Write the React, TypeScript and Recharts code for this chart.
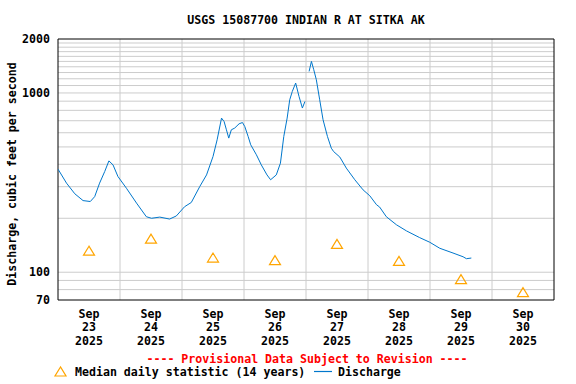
import React from "react";
import {
  ComposedChart,
  Line,
  Scatter,
  CartesianGrid,
  XAxis,
  YAxis,
  ReferenceArea,
} from "recharts";

// hours since Sep 23 00:00
const dischargeHours = [
  0, 3.3, 6.5, 9.7, 12.5, 14.2, 16.1, 18.1, 19.7, 21.3, 23.2, 26.5, 30.4, 34.2, 36.2, 39.4,
  43.2, 45.8, 49.0, 51.6, 54.9, 57.5, 60.0, 61.6, 63.3, 64.3, 65.2, 66.1, 67.1, 68.4, 70.1,
  71.4, 72.3, 73.6, 74.6, 76.8, 78.7, 80.9, 82.3, 84.5, 86.1, 87.4, 88.7, 89.7, 90.7, 92.0,
  93.3, 94.6, 95.6, 96.4, 97.2, 98.1, 99.0, 100.0, 101.3, 102.6, 104.3, 105.8, 106.7, 109.1,
  111.6, 114.9, 118.1, 120.7, 123.3, 124.5, 127.1, 131.0, 134.9, 140.0, 143.9, 147.8, 152.9,
  156.8, 158.1, 160.0,
];
const dischargeCfs = [
  376, 314, 274, 251, 248, 264, 314, 365, 418, 397, 342, 294, 243, 204, 200, 203,
  198, 206, 232, 245, 301, 349, 442, 548, 724, 693, 623, 560, 623, 637, 673,
  684, 650, 572, 514, 452, 397, 349, 328, 349, 406, 572, 724, 916, 1020, 1136,
  956, 824, 897, null, 1319, 1500, 1348, 1185, 916, 709, 572, 492, 471, 439,
  381, 328, 288, 267, 238, 231, 204, 184, 170, 156, 147, 136, 128,
  122, 119, 120,
];

const medianHours = [12, 36, 60, 84, 108, 132, 156, 180];
const medianCfs = [131, 153, 120, 116, 143, 115, 91, 77];

const tickHours = [12, 36, 60, 84, 108, 132, 156, 180];
const tickDays = ["23", "24", "25", "26", "27", "28", "29", "30"];
const midnightHours = [24, 48, 72, 96, 120, 144, 168];
const yTicks = [70, 100, 1000, 2000];
const yGrid = [
  80, 90, 100, 200, 300, 400, 500, 600, 700, 800, 900, 1000, 1100, 1200, 1300, 1400, 1500,
  1600, 1700, 1800, 1900,
];

const discharge = dischargeHours.map((t, i) => ({ t, q: dischargeCfs[i] }));
const medians = medianHours.map((t, i) => ({ t, median: medianCfs[i] }));

const font = {
  fontFamily: "'DejaVu Sans Mono', monospace",
  fontWeight: "bold" as const,
  fontSize: 11.6,
};

const XTick = (props: any) => {
  const { x, payload } = props;
  const day = tickDays[tickHours.indexOf(payload.value)];
  return (
    <text textAnchor="middle" fill="#000" style={font}>
      <tspan x={x} y={317.5}>Sep</tspan>
      <tspan x={x} y={331}>{day}</tspan>
      <tspan x={x} y={344.5}>2025</tspan>
    </text>
  );
};

const Triangle = (props: any) => {
  const { cx, cy } = props;
  if (cx == null || cy == null) return null;
  return (
    <polygon
      points={`${cx},${cy - 5} ${cx - 5.5},${cy + 4} ${cx + 5.5},${cy + 4}`}
      fill="none"
      stroke="#ffa500"
      strokeWidth={1.2}
    />
  );
};

export default function App() {
  return (
    <div style={{ position: "absolute", left: 0, top: 0, width: 576, height: 384, background: "#fff" }}>
      <ComposedChart
        width={576}
        height={384}
        margin={{ top: 39, right: 22, bottom: 24, left: 0 }}
      >
        <CartesianGrid
          stroke="#cccccc"
          horizontalValues={yGrid}
          verticalValues={midnightHours}
        />
        <XAxis
          dataKey="t"
          type="number"
          domain={[0, 192]}
          ticks={tickHours}
          interval={0}
          tick={<XTick />}
          tickLine={false}
          axisLine={false}
          height={60}
          allowDataOverflow
        />
        <YAxis
          type="number"
          scale="log"
          domain={[70, 2000]}
          ticks={yTicks}
          interval={0}
          tickLine={false}
          axisLine={false}
          width={58}
          tick={{ ...font, fill: "#000" }}
          allowDataOverflow
        />
        <ReferenceArea x1={0} x2={192} y1={70} y2={2000} fill="none" stroke="#000" strokeWidth={1} fillOpacity={0} />
        <Line
          data={discharge}
          dataKey="q"
          type="linear"
          stroke="#0077cc"
          strokeWidth={1}
          dot={false}
          isAnimationActive={false}
        />
        <Scatter
          data={medians}
          dataKey="median"
          shape={<Triangle />}
          isAnimationActive={false}
        />
      </ComposedChart>
      <svg
        width={576}
        height={384}
        style={{ position: "absolute", left: 0, top: 0, pointerEvents: "none" }}
      >
        <text x={306} y={24} textAnchor="middle" fill="#000" style={font}>
          USGS 15087700 INDIAN R AT SITKA AK
        </text>
        <text
          x={15.5}
          y={174}
          textAnchor="middle"
          transform="rotate(-90 15.5 174)"
          fill="#000"
          style={font}
        >
          Discharge, cubic feet per second
        </text>
        <text x={307} y={362.5} textAnchor="middle" fill="#ff0000" style={font}>
          ---- Provisional Data Subject to Revision ----
        </text>
        <polygon points="60.5,367 55,376 66,376" fill="none" stroke="#ffa500" strokeWidth={1.2} />
        <text x={75} y={376} fill="#000" style={font}>
          Median daily statistic (14 years)
        </text>
        <line x1={314} x2={332} y1={371.5} y2={371.5} stroke="#0077cc" strokeWidth={1.2} />
        <text x={338} y={376} fill="#000" style={font}>
          Discharge
        </text>
      </svg>
    </div>
  );
}
